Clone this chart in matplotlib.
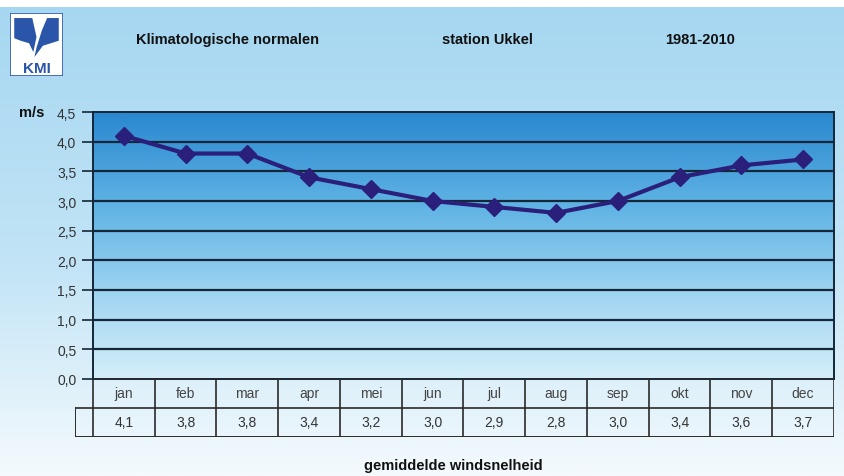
import numpy as np
import matplotlib
matplotlib.use("Agg")
import matplotlib.pyplot as plt
from matplotlib.colors import LinearSegmentedColormap
from matplotlib.patches import Rectangle, Polygon

plt.rcParams['font.family'] = ['Liberation Sans', 'DejaVu Sans']

# monthly mean wind speed, Uccle 1981-2010
months = ["jan", "feb", "mar", "apr", "mei", "jun",
          "jul", "aug", "sep", "okt", "nov", "dec"]
wind = [4.1, 3.8, 3.8, 3.4, 3.2, 3.0, 2.9, 2.8, 3.0, 3.4, 3.6, 3.7]
yticks = [0.0, 0.5, 1.0, 1.5, 2.0, 2.5, 3.0, 3.5, 4.0, 4.5]
titles = ["Klimatologische normalen", "station Ukkel", "1981-2010"]

W, H = 845, 477
fig = plt.figure(figsize=(W / 100, H / 100), dpi=100)


def px_axes(x0, y0, x1, y1, **kw):
    # axes from pixel box (top-left origin)
    return fig.add_axes([x0 / W, 1 - y1 / H, (x1 - x0) / W, (y1 - y0) / H], **kw)


# page background: pale blue fading to white
bg = px_axes(0, 0, W, H)
bg.set_axis_off()
bg_cmap = LinearSegmentedColormap.from_list(
    "page", [(0.0, "#a6d7f1"), (0.55, "#c2e4f6"), (1.0, "#f4fafd")])
grad = np.linspace(0, 1, 256).reshape(-1, 1)
bg.imshow(grad, cmap=bg_cmap, aspect="auto", extent=(0, 1, 0, 1 - 8 / H))
bg.set_xlim(0, 1)
bg.set_ylim(0, 1)

# logo
logo = px_axes(10, 14, 63, 77)
logo.set_xlim(0, 1)
logo.set_ylim(0, 1)
logo.set_axis_off()
logo.add_patch(Rectangle((0, 0), 1, 1, facecolor="white", edgecolor="#2a55a8", lw=1.2))
logo.add_patch(Polygon([(0.08, 0.92), (0.42, 0.92), (0.5, 0.62), (0.44, 0.38),
                        (0.36, 0.52), (0.2, 0.56), (0.08, 0.6)],
                       closed=True, facecolor="#2a55a8", edgecolor="none"))
logo.add_patch(Polygon([(0.92, 0.92), (0.7, 0.92), (0.6, 0.72), (0.5, 0.45),
                        (0.46, 0.3), (0.62, 0.48), (0.92, 0.56)],
                       closed=True, facecolor="#2a55a8", edgecolor="none"))
logo.text(0.5, 0.13, "KMI", ha="center", va="center", fontsize=11,
          fontweight="bold", color="#2a55a8")

# header texts
for xc, t in zip([228, 487, 700], titles):
    fig.text(xc / W, 1 - 40 / H, t, ha="center", va="center",
             fontsize=10.5, fontweight="heavy", color="#111111")

# plot area
ax = px_axes(93, 113, 834, 380)
x = np.arange(len(months))
ax.set_xlim(-0.5, len(months) - 0.5)
ax.set_ylim(0, 4.5)
plot_cmap = LinearSegmentedColormap.from_list(
    "plot", [(0.0, "#2a88cf"), (0.35, "#5fb3e4"), (0.7, "#a3d6f2"),
             (1.0, "#d4eef9")])
ax.imshow(grad, cmap=plot_cmap, aspect="auto",
          extent=(-0.5, len(months) - 0.5, 0, 4.5), zorder=0)
for v in yticks[1:-1]:
    ax.axhline(v, color="#142638", lw=1.6, zorder=1)

ax.plot(x, wind, color="#2b1f7c", lw=3.0, marker="D", markersize=9,
        markerfacecolor="#2b1f7c", markeredgecolor="#2b1f7c", zorder=3)

ax.set_yticks(yticks)
ax.set_yticklabels([f"{v:.1f}".replace(".", ",") for v in yticks],
                   fontsize=10, color="#333333")
ax.tick_params(axis="y", length=8, width=1.2, color="#142638", pad=4)
ax.set_xticks([])
for side in ["top", "right", "left", "bottom"]:
    ax.spines[side].set_color("#142638")
    ax.spines[side].set_linewidth(1.4)

fig.text(32 / W, 1 - 113 / H, "m/s", ha="center", va="center",
         fontsize=10.5, fontweight="heavy", color="#111111")

# data table under the plot
col_w = (834 - 93) / len(months)
key_w = (93 - 75) / col_w
tb = px_axes(75, 380, 834, 438)
tb.set_xlim(-0.5 - key_w, len(months) - 0.5)
tb.set_ylim(0, 2)
tb.set_axis_off()
lc = "#2a2a2a"
tb.plot([-0.5, len(months) - 0.5], [2, 2], color=lc, lw=1.4)
tb.plot([-0.5 - key_w, len(months) - 0.5], [1, 1], color=lc, lw=1.2)
tb.plot([-0.5 - key_w, len(months) - 0.5], [0, 0], color=lc, lw=1.4)
tb.plot([-0.5 - key_w, -0.5 - key_w], [0, 1], color=lc, lw=1.4)
for i in range(len(months) + 1):
    tb.plot([i - 0.5, i - 0.5], [0, 2], color=lc, lw=1.2)
for i, (m, v) in enumerate(zip(months, wind)):
    tb.text(i, 1.5, m, ha="center", va="center", fontsize=10, color="#444444")
    tb.text(i, 0.5, f"{v:.1f}".replace(".", ","), ha="center", va="center",
            fontsize=10, color="#333333")

fig.text(453 / W, 1 - 466 / H, "gemiddelde windsnelheid", ha="center",
         va="center", fontsize=10.5, fontweight="heavy", color="#111111")

fig.savefig("out.png", dpi=100)
